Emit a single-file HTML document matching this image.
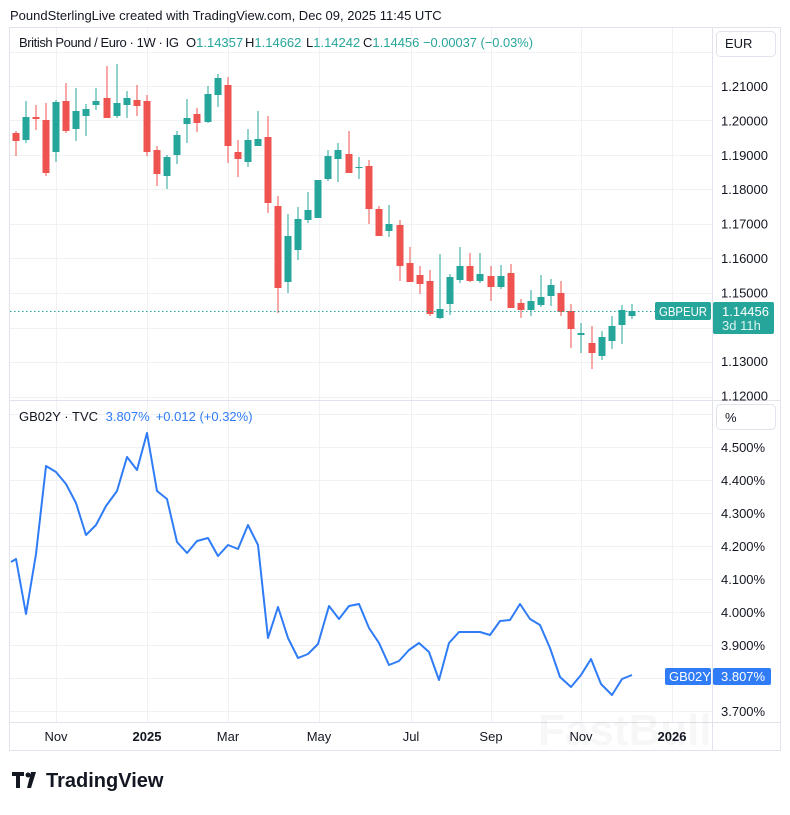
<!DOCTYPE html>
<html><head><meta charset="utf-8"><style>
body{margin:0;background:#fff;width:790px;height:810px;overflow:hidden;font-family:"Liberation Sans",sans-serif}
svg text{font-family:"Liberation Sans",sans-serif}
</style></head><body>
<svg id="s" width="790" height="810" viewBox="0 0 790 810" xmlns="http://www.w3.org/2000/svg">
<rect width="790" height="810" fill="#fff"/>
<text x="10" y="20" font-size="13" fill="#131722">PoundSterlingLive created with TradingView.com, Dec 09, 2025 11:45 UTC</text>
<rect x="9.5" y="27.5" width="771" height="723" fill="none" stroke="#e0e3eb"/>
<g id="grid" stroke="#f0f1f4" stroke-width="1"></g>
<line x1="712.5" y1="28" x2="712.5" y2="750" stroke="#e0e3eb"/>
<line x1="10" y1="400.5" x2="780" y2="400.5" stroke="#e0e3eb"/>
<line x1="10" y1="722.5" x2="780" y2="722.5" stroke="#e0e3eb"/>
<g id="c"></g>
<line x1="10" y1="311.5" x2="655" y2="311.5" stroke="#26a69a" stroke-dasharray="1.5,2.5"/>
<polyline id="ln" fill="none" stroke="#2f7cf6" stroke-width="2" stroke-linejoin="round"/>
<g font-size="13" fill="#131722">
<text x="19" y="47" textLength="160" lengthAdjust="spacing">British Pound / Euro · 1W · IG</text>
<text x="186" y="47">O<tspan fill="#26a69a">1.14357</tspan></text>
<text x="245" y="47">H<tspan fill="#26a69a">1.14662</tspan></text>
<text x="306" y="47">L<tspan fill="#26a69a">1.14242</tspan></text>
<text x="363" y="47">C<tspan fill="#26a69a">1.14456</tspan></text>
<text x="423" y="47" fill="#26a69a" textLength="110" lengthAdjust="spacingAndGlyphs">−0.00037 (−0.03%)</text>
</g>
<text x="19" y="421" font-size="13" fill="#131722">GB02Y · TVC <tspan fill="#2f7cf6" dx="4">3.807%</tspan><tspan fill="#2f7cf6" dx="6">+0.012 (+0.32%)</tspan></text>
<rect x="716.5" y="31.5" width="59" height="25" rx="4" fill="#fff" stroke="#e0e3eb"/>
<text x="725" y="48" font-size="13" fill="#131722">EUR</text>
<rect x="716.5" y="404.5" width="59" height="25" rx="4" fill="#fff" stroke="#e0e3eb"/>
<text x="725" y="422" font-size="13" fill="#131722">%</text>
<g id="ax" font-size="13" fill="#131722"></g>
<rect x="655" y="302" width="56" height="18" rx="2" fill="#26a69a"/>
<text x="683" y="316" font-size="12.5" fill="#fff" text-anchor="middle" textLength="48" lengthAdjust="spacingAndGlyphs">GBPEUR</text>
<rect x="713" y="302" width="61" height="32" rx="2" fill="#26a69a"/>
<text x="722" y="316" font-size="13" fill="#fff">1.14456</text>
<text x="722" y="330" font-size="13" fill="#d9f2ef">3d 11h</text>
<rect x="665" y="668" width="46" height="17" rx="2" fill="#2f7cf6"/>
<text x="669" y="681" font-size="13" fill="#fff">GB02Y</text>
<rect x="713" y="668" width="58" height="17" rx="2" fill="#2f7cf6"/>
<text x="721" y="681" font-size="13" fill="#fff">3.807%</text>
<g font-size="13" fill="#131722" text-anchor="middle">
<text x="56" y="741">Nov</text><text x="147" y="741" font-weight="bold">2025</text><text x="228" y="741">Mar</text><text x="319" y="741">May</text><text x="411" y="741">Jul</text><text x="491" y="741">Sep</text><text x="581" y="741">Nov</text><text x="672" y="741" font-weight="bold">2026</text>
</g>
<text x="538" y="745" font-size="44" font-weight="bold" fill="#000" fill-opacity="0.03">FastBull</text>
<g fill="#131722"><path d="M12 772h12v4h-4v12h-4v-12h-4z"/><circle cx="28" cy="775" r="2.5"/><path d="M31 772h5l-5 16h-4z"/></g>
<text x="46" y="787" font-size="20" font-weight="bold" fill="#131722">TradingView</text>
</svg>
<script>
var NS="http://www.w3.org/2000/svg",s=document.getElementById('s');
function el(p,t,a){var e=document.createElementNS(NS,t);for(var k in a)e.setAttribute(k,a[k]);p.appendChild(e);return e;}
var g=document.getElementById('grid');
[52,86,120,155,189,224,258,293,328,362,397].forEach(function(y){el(g,'line',{x1:10,x2:712,y1:y+.5,y2:y+.5});});
[414,447,480,513,546,579,612,645,678,711].forEach(function(y){el(g,'line',{x1:10,x2:712,y1:y+.5,y2:y+.5});});
[56,147,228,319,411,491,581,672].forEach(function(x){el(g,'line',{x1:x+.5,x2:x+.5,y1:28,y2:722});});
var ax=document.getElementById('ax');
var pl=["1.21000","1.20000","1.19000","1.18000","1.17000","1.16000","1.15000","","1.13000","1.12000"];
pl.forEach(function(t,i){if(t){var y=86+i*34.4;var e=el(ax,'text',{x:721,y:y+5});e.textContent=t;}});
["4.500%","4.400%","4.300%","4.200%","4.100%","4.000%","3.900%","","3.700%"].forEach(function(t,i){if(t){var e=el(ax,'text',{x:721,y:447+i*33+5});e.textContent=t;}});
var C=[[16,133,141,131,156,0],[26,117,140,101,143,1],[36,117,119,105,130,0],[46,120,173,103,176,0],[56,102,152,100,162,1],[66,101,131,83,133,0],[76,111,129,88,141,1],[86,109,116,104,136,1],[96,101,105,88,110,1],[107,98,118,66,118,0],[117,103,116,64,118,1],[127,98,105,91,118,1],[137,100,106,85,116,0],[147,101,152,95,156,0],[157,150,174,146,186,0],[167,157,176,155,189,1],[177,135,155,131,164,1],[187,118,124,99,143,1],[197,114,123,108,132,0],[208,94,122,86,123,1],[218,78,95,74,107,1],[228,85,146,77,163,0],[238,152,159,140,177,0],[248,140,162,129,167,1],[258,139,146,111,146,1],[268,137,203,116,213,0],[278,206,288,196,313,0],[288,236,282,214,293,1],[298,219,250,207,260,1],[308,210,220,192,223,1],[318,180,218,180,218,1],[328,156,179,150,181,1],[338,150,159,143,182,1],[349,154,173,131,173,0],[359,167,168,157,179,1],[369,166,209,160,224,0],[379,209,236,206,236,0],[389,224,231,205,237,1],[400,225,266,220,281,0],[410,263,282,247,282,0],[420,275,284,266,294,0],[430,281,314,270,316,0],[440,309,318,254,319,1],[450,277,304,274,315,1],[460,266,280,247,283,1],[470,266,281,253,282,0],[480,274,281,253,283,1],[491,276,287,266,301,0],[501,276,287,265,289,1],[511,273,308,264,308,0],[521,303,310,299,318,0],[531,301,310,290,316,1],[541,297,305,275,307,1],[551,285,296,279,306,1],[561,293,312,281,316,0],[571,311,329,304,348,0],[581,333,335,323,353,1],[592,343,353,326,369,0],[602,337,356,331,360,1],[612,326,341,316,349,1],[622,310,325,305,344,1],[632,311,316,304,319,1]];
var cg=document.getElementById('c');
C.forEach(function(c){var col=c[5]?'#26a69a':'#ef5350';
el(cg,'rect',{x:c[0]-0.5,y:c[3],width:1,height:c[4]-c[3],fill:col});
el(cg,'rect',{x:c[0]-3.5,y:c[1],width:7,height:Math.max(1,c[2]-c[1]),fill:col});});
var P=[[11,562],[16,559],[26,614],[36,554],[46,466],[56,472],[66,484],[76,503],[86,535],[96,525],[106,506],[117,491],[127,457],[137,470],[147,433],[157,491],[167,499],[177,542],[187,553],[197,541],[208,538],[218,556],[228,545],[238,549],[248,525],[258,545],[268,638],[278,607],[288,638],[298,658],[308,654],[318,644],[329,606],[339,619],[349,606],[359,604],[369,628],[379,643],[389,665],[399,661],[409,650],[419,643],[429,652],[439,680],[449,643],[459,632],[469,632],[480,632],[490,635],[500,621],[510,620],[520,604],[530,619],[540,625],[550,648],[560,677],[571,687],[581,675],[591,659],[601,684],[612,695],[622,679],[632,675]];
document.getElementById('ln').setAttribute('points',P.map(function(p){return p.join(',');}).join(' '));
</script>
</body></html>
